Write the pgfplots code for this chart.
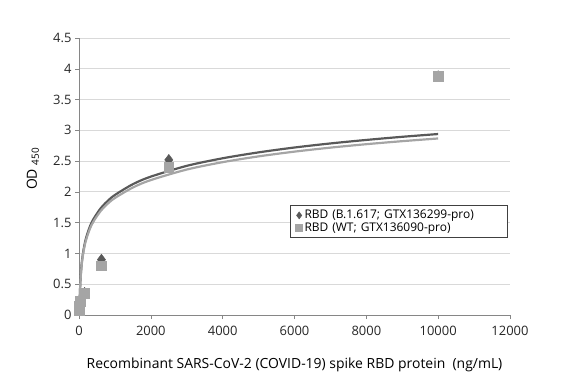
\documentclass[border=0pt]{standalone}
\usepackage{pgfplots}
\pgfplotsset{compat=1.18}
\usepackage{fontspec}
\setmainfont{Open Sans}
\definecolor{darkser}{HTML}{595959}
\definecolor{lightser}{HTML}{A5A5A5}
\definecolor{gridc}{HTML}{D9D9D9}
\definecolor{axc}{HTML}{868686}
\begin{document}
\begin{tikzpicture}
\path[use as bounding box] (-79bp,-67bp) rectangle (503bp,315bp);
\begin{axis}[
  scale only axis,
  width=431bp, height=277bp,
  xmin=0, xmax=12000, ymin=0, ymax=4.5,
  xtick={0,2000,4000,6000,8000,10000,12000},
  ytick={0,0.5,1,1.5,2,2.5,3,3.5,4,4.5},
  scaled x ticks=false,
  /pgf/number format/assume math mode=true,
  /pgf/number format/1000 sep={},
  ticklabel style={font=\fontsize{13}{15}\selectfont, text=black!85},
  xticklabel style={yshift=-4bp},
  axis lines=left,
  axis line style={-, axc},
  tick style={axc, thin},
  tick align=outside,
  major tick length=4bp,
  ymajorgrids, grid style={gridc, line width=0.8pt},
  xlabel={Recombinant SARS-CoV-2 (COVID-19) spike RBD protein\ \ (ng/mL)},
  xlabel style={at={(axis description cs:0.5,-0.1805)}, anchor=center, font=\fontsize{14}{16}\selectfont},
  ylabel={OD {\fontsize{10}{12}\selectfont\raisebox{-0.35ex}{450}}},
  ylabel style={at={(axis description cs:-0.107,0.527)}, anchor=center, font=\fontsize{14}{16}\selectfont},
  legend style={at={(axis description cs:0.995,0.397)}, anchor=north east, draw=black!75, line width=0.6pt,
     font=\fontsize{12}{14}\selectfont, cells={anchor=west, text width=196bp}, inner xsep=5bp, inner ysep=3bp, row sep=-2pt},
  legend image post style={mark size=3.4bp},
  legend cell align=left,
  clip=false,
]
\addplot[only marks, mark=diamond*, mark size=5.5bp, color=darkser, mark options={fill=darkser, draw=darkser}]
  coordinates {(10000,3.88) (2500,2.52) (625,0.90) (156.25,0.36) (39.06,0.22) (9.77,0.15) (2.44,0.12) (0.61,0.10)};
\addlegendentry{RBD (B.1.617; GTX136299-pro)}
\addplot[only marks, mark=square*, mark size=4.8bp, color=lightser, mark options={fill=lightser, draw=lightser}]
  coordinates {(10000,3.88) (2500,2.40) (625,0.80) (156.25,0.35) (39.06,0.22) (9.77,0.15) (2.44,0.10) (0.61,0.08)};
\addlegendentry{RBD (WT; GTX136090-pro)}
\addplot[darkser, line width=2.2pt, smooth, forget plot] coordinates {
 (12,0.049) (20,0.268) (40,0.566) (70,0.807) (100,0.960) (150,1.135) (200,1.258) (300,1.433) (400,1.556)
 (600,1.731) (800,1.854) (1000,1.950) (1500,2.125) (2000,2.248) (3000,2.423) (4000,2.546) (5000,2.642)
 (6000,2.721) (7000,2.787) (8000,2.844) (9000,2.895) (10000,2.940)};
\addplot[lightser, line width=2.2pt, smooth, forget plot] coordinates {
 (12,0.044) (20,0.258) (40,0.549) (70,0.784) (100,0.934) (150,1.105) (200,1.225) (300,1.396) (400,1.516)
 (600,1.687) (800,1.808) (1000,1.901) (1500,2.071) (2000,2.192) (3000,2.363) (4000,2.483) (5000,2.577)
 (6000,2.654) (7000,2.719) (8000,2.775) (9000,2.824) (10000,2.868)};
\end{axis}
\end{tikzpicture}
\end{document}
